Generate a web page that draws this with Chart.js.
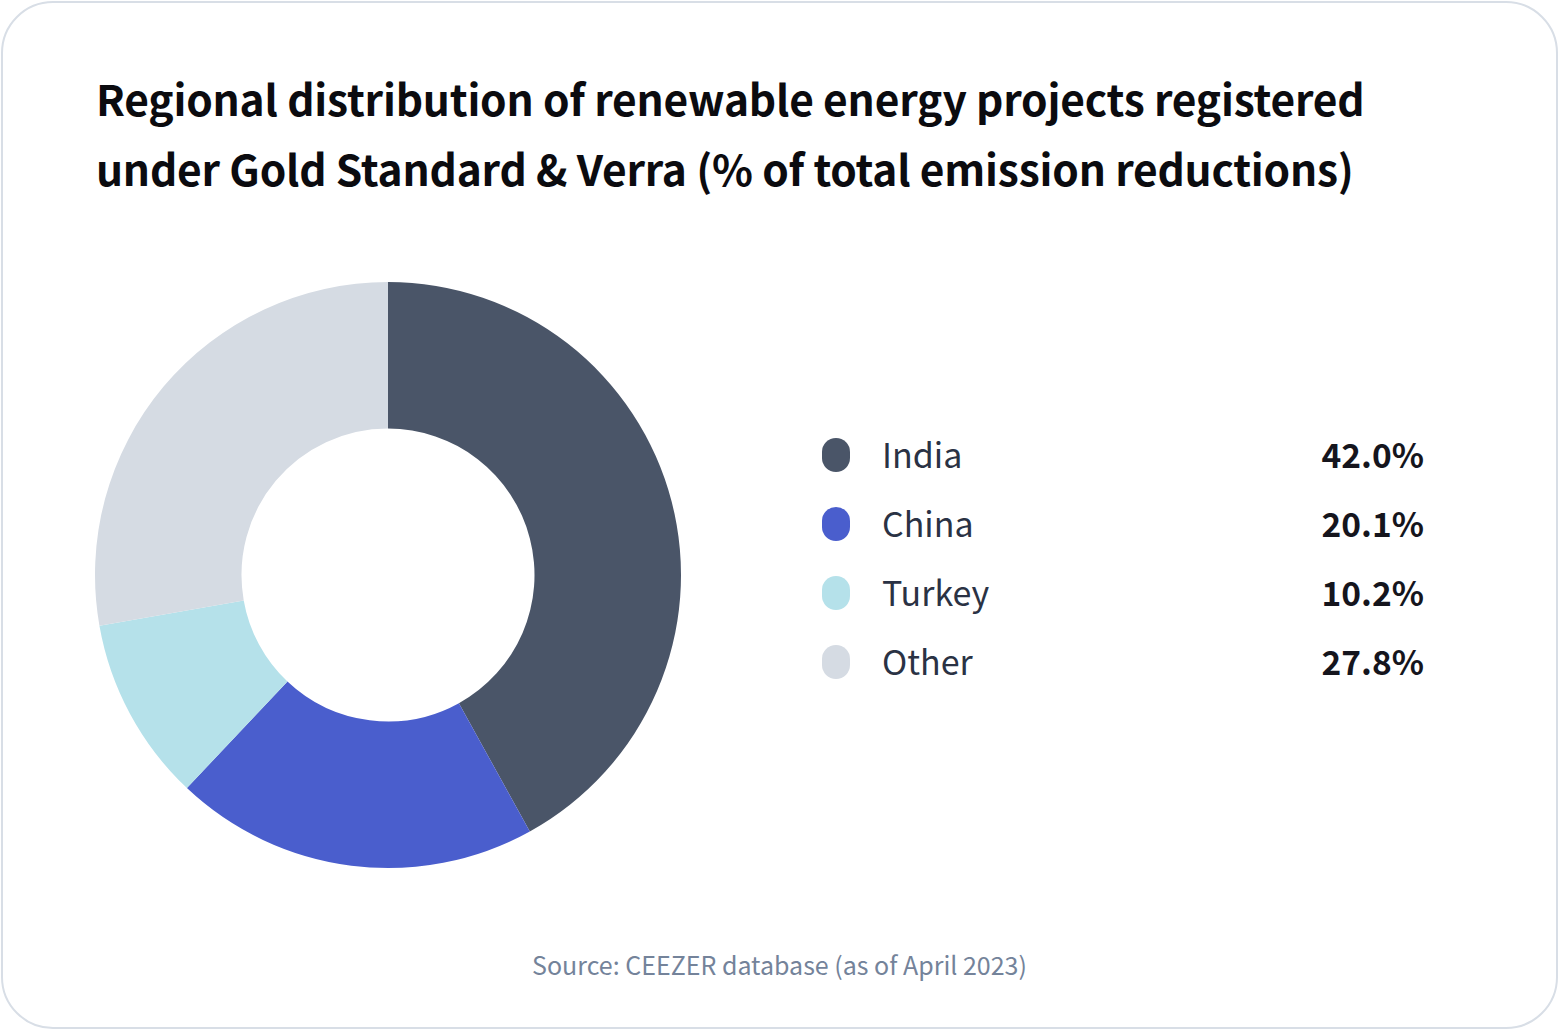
<!DOCTYPE html>
<html>
<head>
<meta charset="utf-8">
<script src="https://cdn.jsdelivr.net/npm/chart.js@4/dist/chart.umd.min.js"></script>
<style>
  html, body { margin: 0; padding: 0; background: #ffffff; }
  body { width: 1559px; height: 1030px; position: relative; overflow: hidden;
         font-family: "Noto Sans CJK SC", "Source Sans Pro", sans-serif; }
  .card { position: absolute; left: 1px; top: 1px; width: 1553px; height: 1024px;
          border: 2px solid #d8dee6; border-radius: 52px; background: #fff; }
  .title { position: absolute; left: 96px; top: 63px; margin: 0; font-size: 42.5px; font-weight: 600;
           line-height: 70px; color: #0b0b0f; letter-spacing: -0.2px; }
  .chartbox { position: absolute; left: 94px; top: 281px; width: 588px; height: 588px; }
  .legend { position: absolute; left: 820px; top: 419px; width: 604px; }
  .row { position: relative; height: 69px; }
  .sw { position: absolute; left: 2px; top: 19px; width: 28px; height: 34px; border-radius: 14px; }
  .lab { position: absolute; left: 62px; top: 0; line-height: 69px; font-size: 34px; color: #2a3244; }
  .val { position: absolute; right: 0; top: 0; line-height: 69px; font-size: 33.5px; font-weight: 600; color: #15151d; }
  .source { position: absolute; left: 0; width: 1559px; top: 946px; text-align: center; font-size: 25px; color: #74839a; }
</style>
</head>
<body>
<div class="card"></div>
<h1 class="title">Regional distribution of renewable energy projects registered<br>under Gold Standard &amp; Verra (% of total emission reductions)</h1>
<div class="chartbox"><canvas id="c" width="588" height="588"></canvas></div>
<div class="legend" id="legend"></div>
<div class="source">Source: CEEZER database (as of April 2023)</div>
<script>
const categories = ["India", "China", "Turkey", "Other"];
const shares = [42.0, 20.1, 10.2, 27.8];
const colors = ["#4a5568", "#4a5ecd", "#b5e1ea", "#d5dbe3"];

const legend = document.getElementById("legend");
categories.forEach((name, i) => {
  const row = document.createElement("div");
  row.className = "row";
  row.innerHTML = '<span class="sw" style="background:' + colors[i] + '"></span>' +
    '<span class="lab">' + name + '</span>' +
    '<span class="val">' + shares[i].toFixed(1) + '%</span>';
  legend.appendChild(row);
});

new Chart(document.getElementById("c"), {
  type: "doughnut",
  data: {
    labels: categories,
    datasets: [{ data: shares, backgroundColor: colors, borderWidth: 0, hoverOffset: 0 }]
  },
  options: {
    responsive: false,
    animation: false,
    cutout: "50%",
    layout: { padding: 1 },
    plugins: { legend: { display: false }, tooltip: { enabled: false } }
  }
});
</script>
</body>
</html>
